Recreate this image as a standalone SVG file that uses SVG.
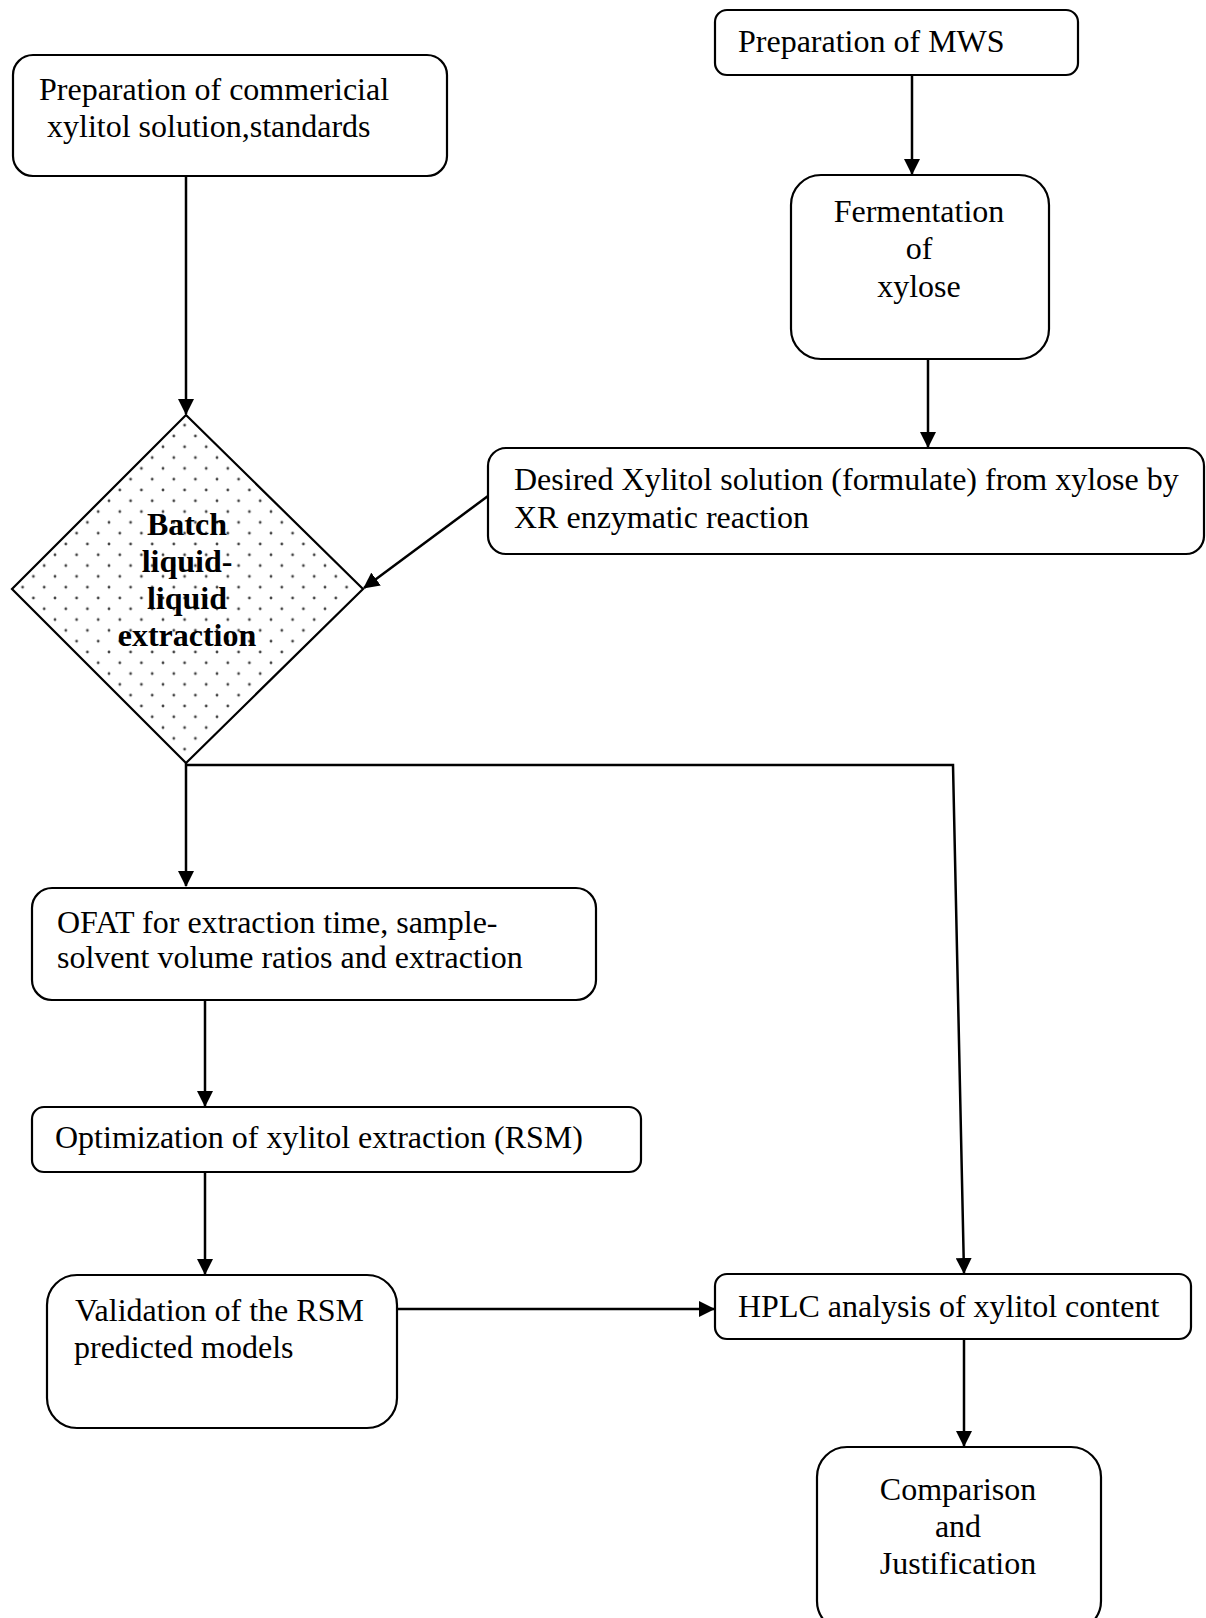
<svg xmlns="http://www.w3.org/2000/svg" width="1206" height="1618" viewBox="0 0 1206 1618">
<style>
.box{fill:#fff;stroke:#000;stroke-width:2.2}
.t{font-family:"Liberation Serif","Times New Roman",serif;font-size:32px;fill:#000}
.c{text-anchor:middle}
.b{font-weight:bold}
.ln{fill:none;stroke:#000;stroke-width:2.5}
</style>
<defs>
<pattern id="dots" patternUnits="userSpaceOnUse" width="21.6" height="21.6" x="1" y="4">
<rect width="21.6" height="21.6" fill="#fff"/>
<circle cx="0" cy="0" r="1.4" fill="#444"/>
<circle cx="21.6" cy="0" r="1.4" fill="#444"/>
<circle cx="0" cy="21.6" r="1.4" fill="#444"/>
<circle cx="21.6" cy="21.6" r="1.4" fill="#444"/>
<circle cx="10.8" cy="10.8" r="1.4" fill="#444"/>
</pattern>
<marker id="ah" viewBox="0 0 16 16" refX="15" refY="8" markerWidth="16" markerHeight="16" markerUnits="userSpaceOnUse" orient="auto">
<path d="M0,0 L16,8 L0,16 z" fill="#000"/>
</marker>
</defs>
<rect width="1206" height="1618" fill="#fff"/>

<g id="connectors">
<line class="ln" x1="186" y1="176" x2="186" y2="414" marker-end="url(#ah)"/>
<line class="ln" x1="912" y1="75" x2="912" y2="174" marker-end="url(#ah)"/>
<line class="ln" x1="928" y1="359" x2="928" y2="447" marker-end="url(#ah)"/>
<line class="ln" x1="488" y1="496" x2="364" y2="588" marker-end="url(#ah)"/>
<line class="ln" x1="186" y1="763" x2="186" y2="886" marker-end="url(#ah)"/>
<polyline class="ln" points="186,765 953,765 964,1273" marker-end="url(#ah)"/>
<line class="ln" x1="205" y1="1000" x2="205" y2="1106" marker-end="url(#ah)"/>
<line class="ln" x1="205" y1="1172" x2="205" y2="1274" marker-end="url(#ah)"/>
<line class="ln" x1="397" y1="1309" x2="714" y2="1309" marker-end="url(#ah)"/>
<line class="ln" x1="964" y1="1339" x2="964" y2="1446" marker-end="url(#ah)"/>
</g>

<g id="n-commercial">
<rect class="box" x="13" y="55" width="434" height="121" rx="20"/>
<text class="t" x="39" y="100">Preparation of commericial</text>
<text class="t" x="47" y="137">xylitol solution,standards</text>
</g>

<g id="n-mws">
<rect class="box" x="715" y="10" width="363" height="65" rx="12"/>
<text class="t" x="738" y="52">Preparation of MWS</text>
</g>

<g id="n-fermentation">
<rect class="box" x="791" y="175" width="258" height="184" rx="30"/>
<text class="t c" x="919" y="222">Fermentation</text>
<text class="t c" x="919" y="259">of</text>
<text class="t c" x="919" y="297">xylose</text>
</g>

<g id="n-desired">
<rect class="box" x="488" y="448" width="716" height="106" rx="18"/>
<text class="t" x="514" y="490">Desired Xylitol solution (formulate) from xylose by</text>
<text class="t" x="514" y="528">XR enzymatic reaction</text>
</g>

<g id="n-batch">
<polygon points="186,415 363,589 186,763 12,589" fill="url(#dots)" stroke="#000" stroke-width="2.2"/>
<text class="t c b" x="187" y="535">Batch</text>
<text class="t c b" x="187" y="572">liquid-</text>
<text class="t c b" x="187" y="609">liquid</text>
<text class="t c b" x="187" y="646">extraction</text>
</g>

<g id="n-ofat">
<rect class="box" x="32" y="888" width="564" height="112" rx="20"/>
<text class="t" x="57" y="933">OFAT for extraction time, sample-</text>
<text class="t" x="57" y="968">solvent volume ratios and extraction</text>
</g>

<g id="n-optimization">
<rect class="box" x="32" y="1107" width="609" height="65" rx="12"/>
<text class="t" x="55" y="1148">Optimization of xylitol extraction (RSM)</text>
</g>

<g id="n-validation">
<rect class="box" x="47" y="1275" width="350" height="153" rx="30"/>
<text class="t" x="75" y="1321">Validation of the RSM</text>
<text class="t" x="74" y="1358">predicted models</text>
</g>

<g id="n-hplc">
<rect class="box" x="715" y="1274" width="476" height="65" rx="12"/>
<text class="t" x="738" y="1317">HPLC analysis of xylitol content</text>
</g>

<g id="n-comparison">
<rect class="box" x="817" y="1447" width="284" height="184" rx="30"/>
<text class="t c" x="958" y="1500">Comparison</text>
<text class="t c" x="958" y="1537">and</text>
<text class="t c" x="958" y="1574">Justification</text>
</g>
</svg>
